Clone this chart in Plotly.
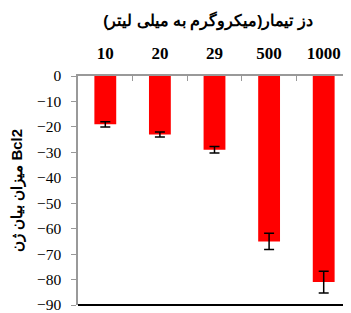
import plotly.graph_objects as go

categories = ["10", "20", "29", "500", "1000"]
values = [-19, -23, -29, -65, -81]
errors = [1, 1, 1.3, 3.2, 4.3]
y_ticks = [0, -10, -20, -30, -40, -50, -60, -70, -80, -90]

fig = go.Figure()
fig.add_trace(go.Bar(
    x=categories, y=values, width=0.4,
    marker=dict(color="#ff0000", line=dict(width=0)),
    error_y=dict(type="data", array=errors, visible=True, color="black", thickness=1.5, width=5),
))

# page body has an 8px default margin, so the figure is sized to fit the window
fig.update_layout(
    width=343, height=305,
    margin=dict(l=70, r=0, t=68, b=8),
    paper_bgcolor="white", plot_bgcolor="white",
    showlegend=False,
    title=dict(text="<b>دز تیمار(میکروگرم به میلی لیتر)</b>", x=0.583, xanchor="center", y=0.96, yanchor="middle",
               font=dict(family="Liberation Sans, Arial", size=15.5, color="black")),
    xaxis=dict(side="top", type="category", tickson="boundaries", ticks="inside", ticklen=5,
               tickcolor="#999999", showline=True, linecolor="#999999", linewidth=1.5,
               showgrid=False, automargin=False, ticklabelstandoff=8,
               tickfont=dict(family="Liberation Serif", size=17, color="black"),
               tickprefix="<b>", ticksuffix="</b>", range=[-0.5, 4.5]),
    yaxis=dict(range=[-90, 0], tickvals=y_ticks, ticks="outside", ticklen=5, tickcolor="#999999",
               showline=True, linecolor="#999999", linewidth=1.5, showgrid=False, zeroline=False,
               automargin=False, ticklabelstandoff=7, ticklabeloverflow="allow",
               tickfont=dict(family="Liberation Serif", size=15.5, color="black"),
               title=dict(text="<b>میزان بیان ژن Bcl2</b>", standoff=14,
                          font=dict(family="Liberation Sans, Arial", size=15, color="black"))),
)
fig.add_shape(type="line", xref="paper", yref="paper", x0=0, x1=1, y0=0, y1=0,
              line=dict(color="black", width=2))
fig.write_html("out.html")
